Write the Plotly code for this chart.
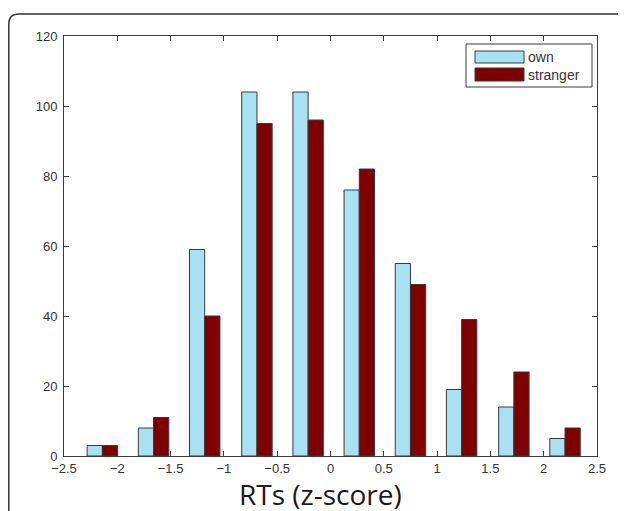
import plotly.graph_objects as go

# ---- data ----
bin_centers = [-2.14, -1.66, -1.18, -0.69, -0.21, 0.27, 0.75, 1.23, 1.72, 2.20]
own = [3, 8, 59, 104, 104, 76, 55, 19, 14, 5]
stranger = [3, 11, 40, 95, 96, 82, 49, 39, 24, 8]
series_names = ["own", "stranger"]
x_ticks = [-2.5, -2, -1.5, -1, -0.5, 0, 0.5, 1, 1.5, 2, 2.5]
x_tick_labels = ["\u22122.5", "\u22122", "\u22121.5", "\u22121", "\u22120.5", "0", "0.5", "1", "1.5", "2", "2.5"]
y_ticks = [0, 20, 40, 60, 80, 100, 120]
x_title = "RTs (z-score)"

# ---- layout geometry (absolute screen pixels; page body has an 8px margin) ----
OFF = 8
W, H = 626 - OFF, 511 - OFF
PL, PR, PT, PB = 64, 597, 36, 456          # plot area in screen pixels
L, T = PL - OFF, PT - OFF
R, B = W - (PR - OFF), H - (PB - OFF)
PW, PH = PR - PL, PB - PT


def px(x):
    return (x - PL) / PW


def py(y):
    return (PB - y) / PH


colors = ["#A8E2F2", "#800000"]
line_col = "#3a3a3a"

fig = go.Figure()
for name, vals, c in zip(series_names, [own, stranger], colors):
    fig.add_trace(go.Bar(
        x=bin_centers, y=vals, name=name,
        marker=dict(color=c, line=dict(color=line_col, width=1)),
        showlegend=False,
    ))

tick_font = dict(family="Liberation Sans, Arial, sans-serif", size=13, color="#333")

fig.update_layout(
    width=W, height=H,
    margin=dict(l=L, r=R, t=T, b=B, pad=0),
    paper_bgcolor="white", plot_bgcolor="white",
    barmode="group", bargap=0.405, bargroupgap=0,
    xaxis=dict(
        range=[-2.5, 2.5], tickmode="array", tickvals=x_ticks, ticktext=x_tick_labels,
        ticks="inside", ticklen=5, tickcolor=line_col, tickwidth=1,
        showline=True, linecolor=line_col, linewidth=1, mirror="ticks",
        showgrid=False, zeroline=False, tickfont=tick_font,
    ),
    yaxis=dict(
        range=[0, 120], tickmode="array", tickvals=y_ticks,
        ticks="inside", ticklen=5, tickcolor=line_col, tickwidth=1,
        showline=True, linecolor=line_col, linewidth=1, mirror="ticks",
        showgrid=False, zeroline=False, tickfont=tick_font, ticklabelstandoff=3,
    ),
)

# x-axis title
fig.add_annotation(xref="paper", yref="paper", x=px(320), y=py(494),
                   text=x_title, showarrow=False, xanchor="center", yanchor="middle",
                   font=dict(family="Open Sans, sans-serif", size=28, color="#1a1a1a"))

# outer rounded frame
fx0, fy0, rr = OFF + 0.8, 14, 10
path = (f"M {px(fx0)},{py(H + 40)} L {px(fx0)},{py(fy0 + rr)} "
        f"Q {px(fx0)},{py(fy0)} {px(fx0 + rr)},{py(fy0)} L {px(W + 40)},{py(fy0)}")
fig.add_shape(type="path", path=path, xref="paper", yref="paper",
              line=dict(color="#333", width=1.5), layer="above")

# custom legend (Matlab style)
lx0, lx1, ly0, ly1 = 466, 592, 44, 87
fig.add_shape(type="rect", xref="paper", yref="paper",
              x0=px(lx0), x1=px(lx1), y0=py(ly1), y1=py(ly0),
              fillcolor="white", line=dict(color=line_col, width=1), layer="above")
sw = [(51, 63), (68, 81)]
for (sy0, sy1), c, name in zip(sw, colors, series_names):
    fig.add_shape(type="rect", xref="paper", yref="paper",
                  x0=px(475), x1=px(524), y0=py(sy1), y1=py(sy0),
                  fillcolor=c, line=dict(color=line_col, width=1), layer="above")
    fig.add_annotation(xref="paper", yref="paper", x=px(526), y=py((sy0 + sy1) / 2),
                       text=name, showarrow=False, xanchor="left", yanchor="middle",
                       font=dict(family="Liberation Sans, Arial, sans-serif", size=14, color="#333"))

fig.write_html("out.html")
